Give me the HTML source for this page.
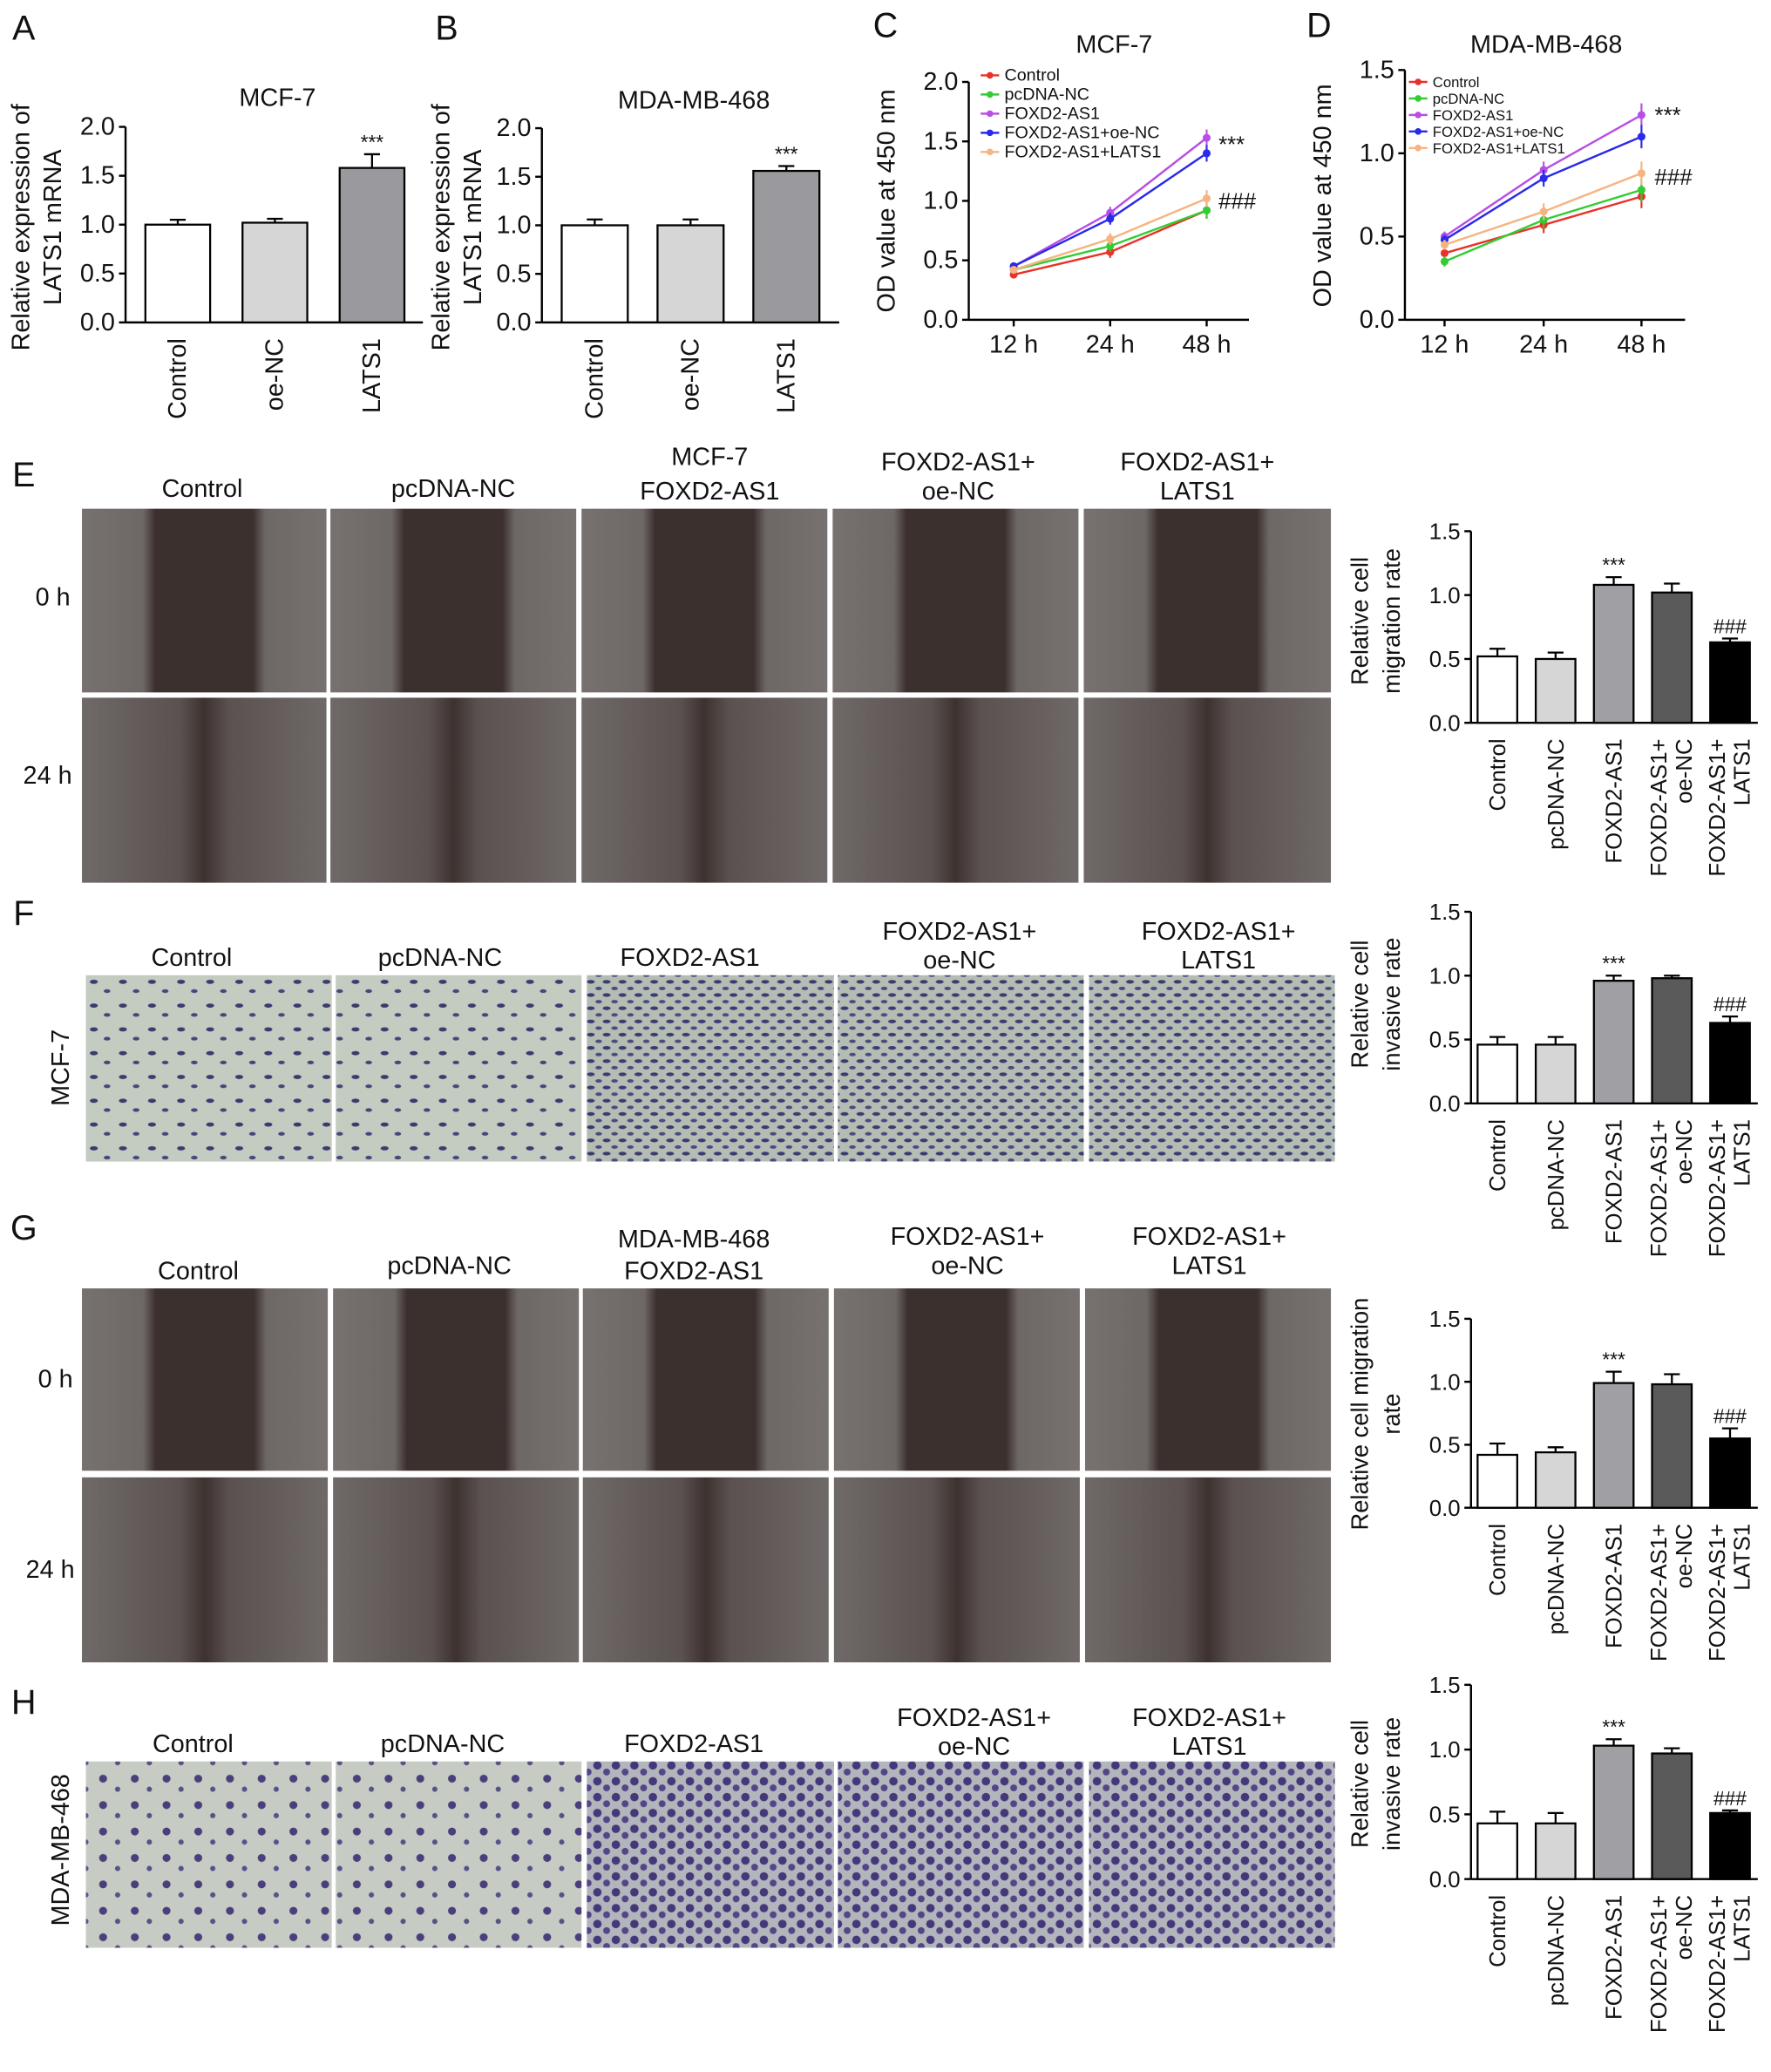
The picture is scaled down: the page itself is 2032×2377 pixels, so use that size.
<!DOCTYPE html>
<html><head><meta charset="utf-8">
<style>
html,body{margin:0;padding:0;background:#fff}
svg{display:block}
text{font-family:"Liberation Sans",sans-serif;fill:#111}
</style></head>
<body>
<svg id="fig" width="2032" height="2377" viewBox="0 0 1340 1568" preserveAspectRatio="none" xmlns="http://www.w3.org/2000/svg">
<defs>
<linearGradient id="scratch" x1="0" x2="1" y1="0" y2="0">
<stop offset="0" stop-color="#77716f"/><stop offset="0.25" stop-color="#6d6766"/>
<stop offset="0.3" stop-color="#3c302e"/><stop offset="0.7" stop-color="#3c302e"/>
<stop offset="0.75" stop-color="#6d6766"/><stop offset="1" stop-color="#77716f"/>
</linearGradient>
<linearGradient id="closed" x1="0" x2="1" y1="0" y2="0">
<stop offset="0" stop-color="#6f6967"/><stop offset="0.4" stop-color="#5a5150"/>
<stop offset="0.5" stop-color="#3e3230"/><stop offset="0.6" stop-color="#5a5150"/>
<stop offset="1" stop-color="#6f6967"/>
</linearGradient>
<pattern id="dotsF" width="22" height="18" patternUnits="userSpaceOnUse">
<rect width="22" height="18" fill="#c4cbc0"/>
<ellipse cx="5" cy="5" rx="3" ry="1.6" fill="#3c3a6e"/><ellipse cx="15" cy="12" rx="2.5" ry="1.4" fill="#47457a"/>
</pattern>
<pattern id="dotsFd" width="12" height="10" patternUnits="userSpaceOnUse">
<rect width="12" height="10" fill="#b4bdb4"/>
<ellipse cx="3" cy="3" rx="3" ry="1.4" fill="#3c3a70"/><ellipse cx="9" cy="8" rx="2.5" ry="1.3" fill="#4b4a80"/>
</pattern>
<pattern id="dotsH" width="24" height="20" patternUnits="userSpaceOnUse">
<rect width="24" height="20" fill="#c6ccc4"/>
<circle cx="6" cy="6" r="3" fill="#4a3f7c"/><circle cx="17" cy="14" r="2" fill="#5a5088"/>
</pattern>
<pattern id="dotsHd" width="14" height="12" patternUnits="userSpaceOnUse">
<rect width="14" height="12" fill="#b3b5bc"/>
<circle cx="4" cy="4" r="3.2" fill="#44387a"/><circle cx="11" cy="9" r="2.6" fill="#524688"/>
</pattern>
</defs>
<g id="root"></g>
</svg>
<script>
// ---- Panel A/B data ----
const abCats = ["Control","oe-NC","LATS1"];
const aVals = [1.0, 1.02, 1.58];
const aErr = [0.05, 0.04, 0.14];
const bVals = [1.0, 1.0, 1.56];
const bErr = [0.06, 0.06, 0.05];
const abTicks = [0,0.5,1.0,1.5,2.0];
// ---- Panel C/D data ----
const timeCats = ["12 h","24 h","48 h"];
const seriesNames = ["Control","pcDNA-NC","FOXD2-AS1","FOXD2-AS1+oe-NC","FOXD2-AS1+LATS1"];
const cControl = [0.38,0.57,0.92];
const cPcdna = [0.42,0.62,0.92];
const cFoxd2 = [0.45,0.90,1.53];
const cOeNC = [0.45,0.85,1.40];
const cLats1 = [0.42,0.68,1.02];
const dControl = [0.40,0.57,0.74];
const dPcdna = [0.35,0.60,0.78];
const dFoxd2 = [0.50,0.90,1.23];
const dOeNC = [0.48,0.85,1.10];
const dLats1 = [0.45,0.65,0.88];
const cTicks = [0,0.5,1.0,1.5,2.0];
const dTicks = [0,0.5,1.0,1.5];
// ---- Panels E-H bar data ----
const grpCats = ["Control","pcDNA-NC","FOXD2-AS1","FOXD2-AS1+|oe-NC","FOXD2-AS1+|LATS1"];
const eVals = [0.52,0.50,1.08,1.02,0.63];
const eErr = [0.06,0.05,0.06,0.07,0.03];
const fVals = [0.46,0.46,0.96,0.98,0.63];
const fErr = [0.06,0.06,0.04,0.02,0.05];
const gVals = [0.42,0.44,0.99,0.98,0.55];
const gErr = [0.09,0.04,0.09,0.08,0.08];
const hVals = [0.43,0.43,1.03,0.97,0.51];
const hErr = [0.09,0.08,0.05,0.04,0.02];
const grpTicks = [0,0.5,1.0,1.5];

const NS="http://www.w3.org/2000/svg";
const root=document.getElementById('root');
function el(tag,attrs,parent,txt){const e=document.createElementNS(NS,tag);for(const k in attrs)e.setAttribute(k,attrs[k]);if(txt!==undefined)e.textContent=txt;(parent||root).appendChild(e);return e;}
function txt(x,y,s,size,anchor,rot,name){const t=el('text',{x:x,y:y,'font-size':size,'text-anchor':anchor||'middle'},root,s);if(rot)t.setAttribute('transform','rotate('+rot+' '+x+' '+y+')');


return t;}

function yAxis(x,y0,y1,max,ticks,fs){
  const sc=v=>y0-(v/max)*(y0-y1);
  el('line',{x1:x,x2:x,y1:y0,y2:y1,stroke:'#000','stroke-width':1.6});
  ticks.forEach(t=>{const y=sc(t);el('line',{x1:x-5,x2:x,y1:y,y2:y,stroke:'#000','stroke-width':1.6});
    txt(x-8,y+6,t.toFixed(1),fs||17,'end',0,'y-tick');});
  return sc;
}
function barChart(o){
  const sc=yAxis(o.ax,o.y0,o.y1,o.max,o.ticks,o.fs);
  el('line',{x1:o.ax,x2:o.xEnd,y1:o.y0,y2:o.y0,stroke:'#000','stroke-width':1.6});
  o.vals.forEach((v,i)=>{
    const x=o.x0+i*o.step;const top=sc(v);
    const r=el('rect',{x:x,y:top,width:o.bw,height:o.y0-top,fill:o.colors[i],stroke:'#000','stroke-width':1.5});
    
    
    const cx=x+o.bw/2,et=sc(v+o.err[i]);
    el('line',{x1:cx,x2:cx,y1:top,y2:et,stroke:'#000','stroke-width':1.5});
    el('line',{x1:cx-6,x2:cx+6,y1:et,y2:et,stroke:'#000','stroke-width':1.5});
    if(o.marks&&o.marks[i])txt(cx,et-4,o.marks[i],15,'middle',0,'significance-mark');
    const lines=o.cats[i].split('|');
    if(lines.length==1)txt(cx+6,o.y0+12,lines[0],o.fs||17,'end',-90,'x-label');
    else{txt(cx-4,o.y0+12,lines[0],o.fs||17,'end',-90,'x-label');txt(cx+15,o.y0+12,lines[1],o.fs||17,'end',-90,'x-label');}
  });
}
const abCol=['#fff','#d6d6d6','#9a9a9e'];
const grpCol=['#fff','#d6d6d6','#a0a0a4','#5a5a5a','#000'];

// Panel A
txt(18,30,'A',26,'middle',0,'panel-label-a');
txt(210,80,'MCF-7',19,'middle',0,'chart-title');
txt(22,172,'Relative expression of',19,'middle',-90,'y-axis-title');
txt(46,172,'LATS1 mRNA',19,'middle',-90,'y-axis-title');
barChart({id:'a',ax:95,xEnd:320,y0:244,y1:96,max:2,ticks:abTicks,vals:aVals,err:aErr,cats:abCats,x0:110,step:73.5,bw:49,colors:abCol,marks:[0,0,'***'],fs:19});
// Panel B
txt(338,30,'B',26,'middle',0,'panel-label-b');
txt(525,82,'MDA-MB-468',19,'middle',0,'chart-title');
txt(340,172,'Relative expression of',19,'middle',-90,'y-axis-title');
txt(364,172,'LATS1 mRNA',19,'middle',-90,'y-axis-title');
barChart({id:'b',ax:410,xEnd:635,y0:244,y1:97,max:2,ticks:abTicks,vals:bVals,err:bErr,cats:abCats,x0:425,step:72.5,bw:50,colors:abCol,marks:[0,0,'***'],fs:19});

// Line charts
const lineCols=['#e8312a','#33cc33','#b84ee6','#2a2ae8','#f5b482'];
function lineChart(o){
  const sc=yAxis(o.ax,o.y0,o.y1,o.max,o.ticks,19);
  el('line',{x1:o.ax,x2:o.xEnd,y1:o.y0,y2:o.y0,stroke:'#000','stroke-width':1.6});
  o.xs.forEach((x,i)=>{el('line',{x1:x,x2:x,y1:o.y0,y2:o.y0+5,stroke:'#000','stroke-width':1.6});txt(x,o.y0+25,timeCats[i],19,'middle',0,'x-tick');});
  o.series.forEach((s,k)=>{
    const pts=s.map((v,i)=>o.xs[i]+','+sc(v)).join(' ');
    const p=el('polyline',{points:pts,fill:'none',stroke:lineCols[k],'stroke-width':1.6});
    
    
    s.forEach((v,i)=>{const y=sc(v);const e=0.03+0.02*i;
      el('line',{x1:o.xs[i],x2:o.xs[i],y1:sc(v-e),y2:sc(v+e),stroke:lineCols[k],'stroke-width':1.4});
      el('circle',{cx:o.xs[i],cy:y,r:3,fill:lineCols[k]});});
    const ly=o.ly+k*o.lstep;
    el('line',{x1:o.lx,x2:o.lx+14,y1:ly,y2:ly,stroke:lineCols[k],'stroke-width':1.6});
    el('circle',{cx:o.lx+7,cy:ly,r:2.5,fill:lineCols[k]});
    txt(o.lx+18,ly+4,seriesNames[k],o.lfs,'start',0,'legend-entry');
  });
  txt(o.sx,o.s1y,'***',17,'start',0,'significance-mark');
  txt(o.sx,o.s2y,'###',17,'start',0,'significance-mark');
}
txt(670,28,'C',26,'middle',0,'panel-label-c');
txt(843,40,'MCF-7',19,'middle',0,'chart-title');
txt(677,152,'OD value at 450 nm',19,'middle',-90,'y-axis-title');
lineChart({id:'c',ax:733,xEnd:945,y0:242,y1:62,max:2,ticks:cTicks,xs:[767,840,913],series:[cControl,cPcdna,cFoxd2,cOeNC,cLats1],lx:742,ly:57,lstep:14.5,lfs:13,sx:922,s1y:115,s2y:158});
txt(998,28,'D',26,'middle',0,'panel-label-d');
txt(1170,40,'MDA-MB-468',19,'middle',0,'chart-title');
txt(1007,148,'OD value at 450 nm',19,'middle',-90,'y-axis-title');
lineChart({id:'d',ax:1063,xEnd:1275,y0:242,y1:53,max:1.5,ticks:dTicks,xs:[1093,1168,1242],series:[dControl,dPcdna,dFoxd2,dOeNC,dLats1],lx:1066,ly:62,lstep:12.5,lfs:11,sx:1252,s1y:93,s2y:140});

// Image panels
function imgRow(xs,y,h,fill,name){xs.forEach((x,i)=>{const r=el('rect',{x:x[0],y:y,width:x[1]-x[0],height:h,fill:fill});
  
  });}
const colsE=[[62,247],[250,436],[440,626],[630,816],[820,1007]];
const colsF=[[65,251],[254,440],[444,631],[634,820],[824,1010]];
const colsG=[[62,248],[252,438],[441,627],[631,817],[821,1007]];
// E
txt(18,368,'E',26,'middle',0,'panel-label-e');
imgRow(colsE,385,139,'url(#scratch)','wound-0h-mcf7');
imgRow(colsE,528,140,'url(#closed)','wound-24h-mcf7');
txt(40,458,'0 h',19,'middle',0,'row-label');txt(36,593,'24 h',19,'middle',0,'row-label');
txt(153,376,'Control',19);txt(343,376,'pcDNA-NC',19);txt(537,352,'MCF-7',19);txt(537,378,'FOXD2-AS1',19);
txt(725,356,'FOXD2-AS1+',19);txt(725,378,'oe-NC',19);txt(906,356,'FOXD2-AS1+',19);txt(906,378,'LATS1',19);
txt(1035,470,'Relative cell',18,'middle',-90,'y-axis-title');txt(1059,470,'migration rate',18,'middle',-90,'y-axis-title');
barChart({id:'e',ax:1113,xEnd:1330,y0:547,y1:402,max:1.5,ticks:grpTicks,vals:eVals,err:eErr,cats:grpCats,x0:1118,step:44,bw:30,colors:grpCol,marks:[0,0,'***',0,'###']});
// F
txt(18,700,'F',26,'middle',0,'panel-label-f');
const ff=['url(#dotsF)','url(#dotsF)','url(#dotsFd)','url(#dotsFd)','url(#dotsFd)'];
colsF.forEach((c,i)=>imgRow([c],738,141,ff[i],'transwell-mcf7-'+i));
txt(52,808,'MCF-7',19,'middle',-90,'row-label');
txt(145,731,'Control',19);txt(333,731,'pcDNA-NC',19);txt(522,731,'FOXD2-AS1',19);
txt(726,711,'FOXD2-AS1+',19);txt(726,733,'oe-NC',19);txt(922,711,'FOXD2-AS1+',19);txt(922,733,'LATS1',19);
txt(1035,760,'Relative cell',18,'middle',-90,'y-axis-title');txt(1059,760,'invasive rate',18,'middle',-90,'y-axis-title');
barChart({id:'f',ax:1113,xEnd:1330,y0:835,y1:690,max:1.5,ticks:grpTicks,vals:fVals,err:fErr,cats:grpCats,x0:1118,step:44,bw:30,colors:grpCol,marks:[0,0,'***',0,'###']});
// G
txt(18,938,'G',26,'middle',0,'panel-label-g');
imgRow(colsG,975,138,'url(#scratch)','wound-0h-mdamb468');
imgRow(colsG,1118,140,'url(#closed)','wound-24h-mdamb468');
txt(42,1050,'0 h',19,'middle',0,'row-label');txt(38,1194,'24 h',19,'middle',0,'row-label');
txt(150,968,'Control',19);txt(340,964,'pcDNA-NC',19);txt(525,944,'MDA-MB-468',19);txt(525,968,'FOXD2-AS1',19);
txt(732,942,'FOXD2-AS1+',19);txt(732,964,'oe-NC',19);txt(915,942,'FOXD2-AS1+',19);txt(915,964,'LATS1',19);
txt(1035,1070,'Relative cell migration',18,'middle',-90,'y-axis-title');txt(1059,1070,'rate',18,'middle',-90,'y-axis-title');
barChart({id:'g',ax:1113,xEnd:1330,y0:1141,y1:998,max:1.5,ticks:grpTicks,vals:gVals,err:gErr,cats:grpCats,x0:1118,step:44,bw:30,colors:grpCol,marks:[0,0,'***',0,'###']});
// H
txt(18,1297,'H',26,'middle',0,'panel-label-h');
const hf=['url(#dotsH)','url(#dotsH)','url(#dotsHd)','url(#dotsHd)','url(#dotsHd)'];
colsF.forEach((c,i)=>imgRow([c],1333,141,hf[i],'transwell-mdamb468-'+i));
txt(52,1400,'MDA-MB-468',19,'middle',-90,'row-label');
txt(146,1326,'Control',19);txt(335,1326,'pcDNA-NC',19);txt(525,1326,'FOXD2-AS1',19);
txt(737,1306,'FOXD2-AS1+',19);txt(737,1328,'oe-NC',19);txt(915,1306,'FOXD2-AS1+',19);txt(915,1328,'LATS1',19);
txt(1035,1350,'Relative cell',18,'middle',-90,'y-axis-title');txt(1059,1350,'invasive rate',18,'middle',-90,'y-axis-title');
barChart({id:'h',ax:1113,xEnd:1330,y0:1422,y1:1275,max:1.5,ticks:grpTicks,vals:hVals,err:hErr,cats:grpCats,x0:1118,step:44,bw:30,colors:grpCol,marks:[0,0,'***',0,'###']});
</script>
</body></html>
